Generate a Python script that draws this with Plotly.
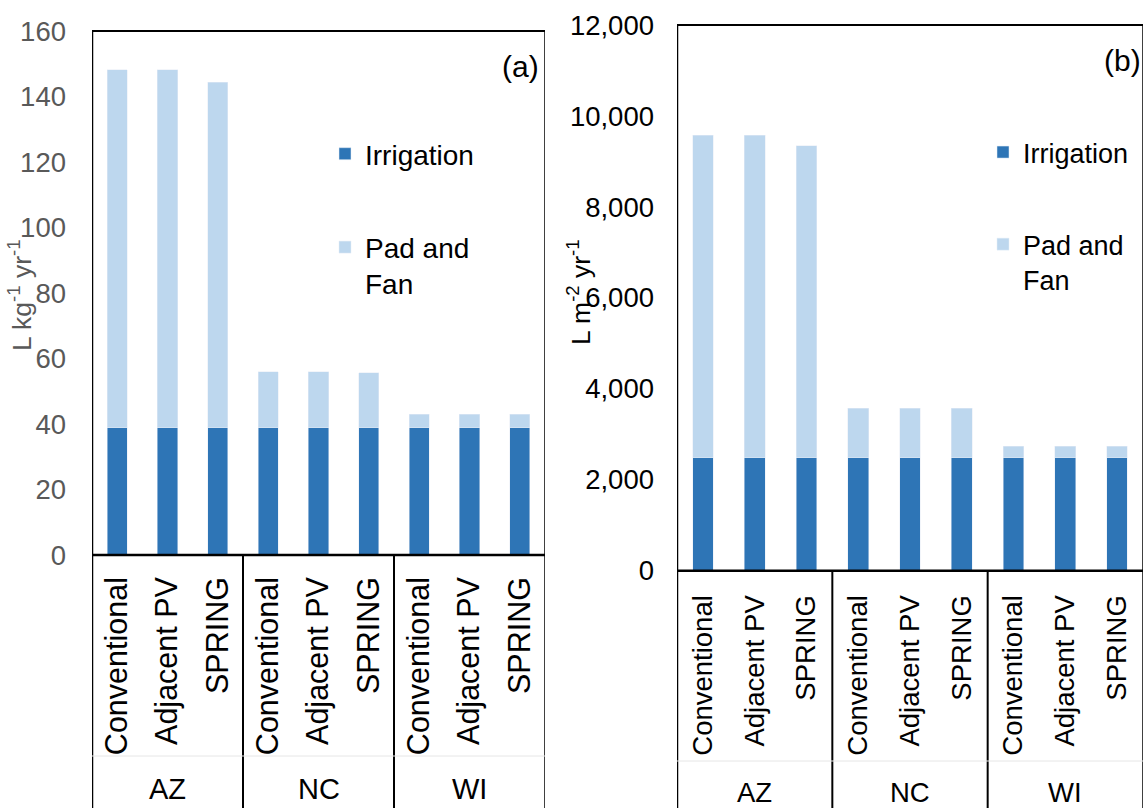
import plotly.graph_objects as go

W, H = 1145, 808
FONT = "Liberation Sans, Arial, sans-serif"

states = ["AZ", "NC", "WI"]
systems = ["Conventional", "Adjacent PV", "SPRING"]
x_labels = ["Conventional", "Adjacent PV", "SPRING",
            "Conventional", "Adjacent PV", "SPRING",
            "Conventional", "Adjacent PV", "SPRING"]
x_pos = [0, 1, 2, 3, 4, 5, 6, 7, 8]

# (a) water use per kg of produce, L kg-1 yr-1
irrigation_kg = [38.9, 38.9, 38.9, 38.9, 38.9, 38.9, 38.9, 38.9, 38.9]
padfan_kg = [109.2, 109.2, 105.4, 17.0, 17.0, 16.7, 4.1, 4.1, 4.1]

# (b) water use per m2 of greenhouse, L m-2 yr-1
irrigation_m2 = [2480, 2480, 2480, 2480, 2480, 2480, 2480, 2480, 2480]
padfan_m2 = [7100, 7100, 6860, 1095, 1095, 1090, 262, 262, 262]

DARK = "#2E75B6"
LIGHT = "#BDD7EE"


def px(p):
    return p / W


def py(p):
    return 1 - p / H


fig = go.Figure()

fig.add_trace(go.Bar(x=x_pos, y=irrigation_kg, name="Irrigation", marker_color=DARK,
                     width=0.4, xaxis="x", yaxis="y", legend="legend", legendgroup="irr_a"))
fig.add_trace(go.Bar(x=x_pos, y=padfan_kg, name="Pad and<br>Fan", marker_color=LIGHT,
                     width=0.4, xaxis="x", yaxis="y", legend="legend", legendgroup="pad_a"))
fig.add_trace(go.Bar(x=x_pos, y=irrigation_m2, name="Irrigation", marker_color=DARK,
                     width=0.4, xaxis="x2", yaxis="y2", legend="legend2", legendgroup="irr_b"))
fig.add_trace(go.Bar(x=x_pos, y=padfan_m2, name="Pad and<br>Fan", marker_color=LIGHT,
                     width=0.4, xaxis="x2", yaxis="y2", legend="legend2", legendgroup="pad_b"))

# panel frames in pixels: left, right, top, bottom, faint rule
frame_a = (92, 545, 31, 555, 756)
frame_b = (677, 1143, 25, 570.7, 761)

xcommon = dict(range=[-0.5, 8.5], tickmode="array", tickvals=x_pos, ticktext=x_labels,
               tickangle=-90, ticks="", showgrid=False, zeroline=False, showline=False,
               automargin=False, fixedrange=True)
ycommon = dict(showgrid=False, zeroline=False, showline=False, ticks="", automargin=False)

fig.update_layout(
    width=W, height=H,
    margin=dict(l=0, r=0, t=0, b=0, autoexpand=False),
    paper_bgcolor="white", plot_bgcolor="white",
    barmode="stack",
    font=dict(family=FONT, color="black"),
    xaxis=dict(domain=[px(frame_a[0]), px(frame_a[1])], anchor="y",
               tickfont=dict(size=30.5, color="black"), ticklabelstandoff=15, **xcommon),
    yaxis=dict(domain=[py(frame_a[3]), py(frame_a[2])], anchor="x", range=[0, 160],
               tickvals=[0, 20, 40, 60, 80, 100, 120, 140, 160],
               tickfont=dict(size=27.5, color="#595959"), ticklabelstandoff=25, **ycommon),
    xaxis2=dict(domain=[px(frame_b[0]), px(frame_b[1])], anchor="y2",
                tickfont=dict(size=27.5, color="black"), ticklabelstandoff=18, **xcommon),
    yaxis2=dict(domain=[py(frame_b[3]), py(frame_b[2])], anchor="x2", range=[0, 12000],
                tickvals=[0, 2000, 4000, 6000, 8000, 10000, 12000], tickformat=",",
                tickfont=dict(size=27.5, color="black"), ticklabelstandoff=22, **ycommon),
    legend=dict(x=px(325), y=py(129), xanchor="left", yanchor="top",
                font=dict(size=28, color="black"), bgcolor="rgba(0,0,0,0)",
                traceorder="grouped", tracegroupgap=54, valign="top"),
    legend2=dict(x=px(983), y=py(128), xanchor="left", yanchor="top",
                 font=dict(size=27, color="black"), bgcolor="rgba(0,0,0,0)",
                 traceorder="grouped", tracegroupgap=54, valign="top"),
    bargap=0.6,
)

shapes = []
for frame, xr in [(frame_a, "x"), (frame_b, "x2")]:
    l, r, t, b, rule = frame
    # plot box
    shapes.append(dict(type="line", xref="paper", yref="paper", x0=px(l), x1=px(r),
                       y0=py(t), y1=py(t), line=dict(color="black", width=2)))
    shapes.append(dict(type="line", xref="paper", yref="paper", x0=px(l), x1=px(r),
                       y0=py(b), y1=py(b), line=dict(color="black", width=2.5)))
    # vertical rules: panel edges and state separators run down through the label area
    for xv, wv in [(-0.5, 2.5), (2.5, 2), (5.5, 2), (8.5, 1.5)]:
        y_top = py(t) if xv in (-0.5, 8.5) else py(b)
        shapes.append(dict(type="line", xref=xr, yref="paper", x0=xv, x1=xv,
                           y0=0, y1=y_top, line=dict(color="black", width=wv)))
    # faint rule between system and state labels
    shapes.append(dict(type="line", xref="paper", yref="paper", x0=px(l), x1=px(r),
                       y0=py(rule), y1=py(rule), line=dict(color="#E6E6E6", width=1)))
fig.update_layout(shapes=shapes)

annotations = []
for i, st in enumerate(states):
    annotations.append(dict(x=3 * i + 1, y=py(789), xref="x", yref="paper", text=st,
                            showarrow=False, font=dict(size=29, color="black"),
                            xanchor="center", yanchor="middle"))
    annotations.append(dict(x=3 * i + 1, y=py(792), xref="x2", yref="paper", text=st,
                            showarrow=False, font=dict(size=27.5, color="black"),
                            xanchor="center", yanchor="middle"))

annotations += [
    dict(x=px(20), y=py(295), xref="paper", yref="paper", textangle=-90,
         text="L kg<sup>-1</sup> yr<sup>-1</sup>", showarrow=False,
         font=dict(size=26.5, color="#595959"), xanchor="center", yanchor="middle"),
    dict(x=px(579), y=py(292), xref="paper", yref="paper", textangle=-90,
         text="L m<sup>-2</sup> yr<sup>-1</sup>", showarrow=False,
         font=dict(size=26.5, color="black"), xanchor="center", yanchor="middle"),
    dict(x=px(541), y=py(67), xref="paper", yref="paper", text="(a)", showarrow=False,
         font=dict(size=30, color="black"), xanchor="right", yanchor="middle"),
    dict(x=px(1143), y=py(61), xref="paper", yref="paper", text="(b)", showarrow=False,
         font=dict(size=30, color="black"), xanchor="right", yanchor="middle"),
]
fig.update_layout(annotations=annotations)

fig.write_html("out.html")
